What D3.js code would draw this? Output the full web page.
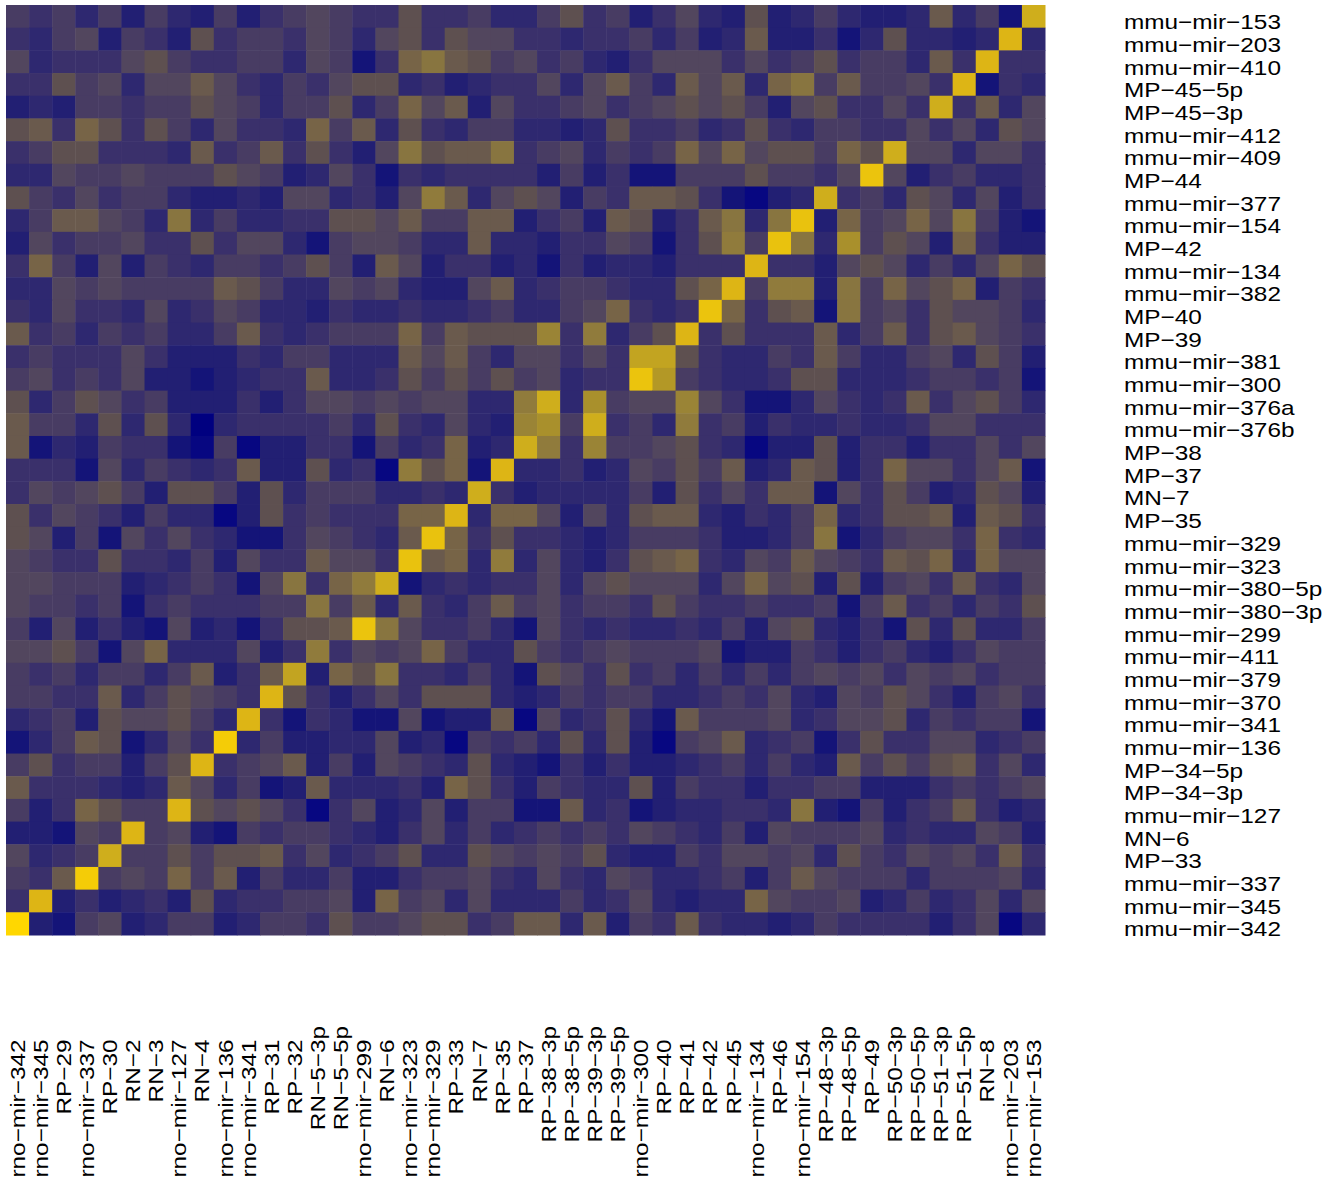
<!DOCTYPE html>
<html>
<head>
<meta charset="utf-8">
<script src="https://cdn.jsdelivr.net/npm/d3@7"></script>
<style>
  html, body { margin: 0; padding: 0; background: #ffffff; }
  svg { display: block; }
</style>
</head>
<body>
<svg id="chart" width="1333" height="1179"></svg>
<script>
// Mouse miRNAs (rows, top to bottom)
const rowLabels = [
  "mmu-mir-153","mmu-mir-203","mmu-mir-410","MP-45-5p","MP-45-3p","mmu-mir-412",
  "mmu-mir-409","MP-44","mmu-mir-377","mmu-mir-154","MP-42","mmu-mir-134",
  "mmu-mir-382","MP-40","MP-39","mmu-mir-381","mmu-mir-300","mmu-mir-376a",
  "mmu-mir-376b","MP-38","MP-37","MN-7","MP-35","mmu-mir-329","mmu-mir-323",
  "mmu-mir-380-5p","mmu-mir-380-3p","mmu-mir-299","mmu-mir-411","mmu-mir-379",
  "mmu-mir-370","mmu-mir-341","mmu-mir-136","MP-34-5p","MP-34-3p","mmu-mir-127",
  "MN-6","MP-33","mmu-mir-337","mmu-mir-345","mmu-mir-342"
];

// Rat miRNAs (columns, left to right)
const colLabels = [
  "rno-mir-342","rno-mir-345","RP-29","rno-mir-337","RP-30","RN-2","RN-3",
  "rno-mir-127","RN-4","rno-mir-136","rno-mir-341","RP-31","RP-32","RN-5-3p",
  "RN-5-5p","rno-mir-299","RN-6","rno-mir-323","rno-mir-329","RP-33","RN-7",
  "RP-35","RP-37","RP-38-3p","RP-38-5p","RP-39-3p","RP-39-5p","rno-mir-300",
  "RP-40","RP-41","RP-42","RP-45","rno-mir-134","RP-46","rno-mir-154",
  "RP-48-3p","RP-48-5p","RP-49","RP-50-3p","RP-50-5p","RP-51-3p","RP-51-5p",
  "RN-8","rno-mir-203","rno-mir-153"
];

// Similarity score (0-100), one row per mouse miRNA, one value per rat miRNA
const values = [
  [28,23,28,18,28,13,28,18,13,28,13,23,28,32,28, 23,23,37,23,23,28,18,18,28,37,23,28,13,23,32, 18,13,37,13,18,28,18,13,13,18,42,18,28,8,81],
  [23,18,28,32,13,28,23,13,37,23,28,28,23,32,28, 18,32,37,23,37,32,32,23,23,18,23,23,28,18,28, 13,18,42,13,13,23,8,18,37,18,18,13,18,87,18],
  [32,18,23,23,23,32,37,28,23,23,28,28,18,32,28, 8,23,47,53,42,37,28,32,23,28,18,13,23,32,32, 32,23,32,23,28,37,23,28,28,18,42,23,87,23,23],
  [23,23,37,28,32,18,32,32,42,32,23,18,28,23,32, 37,37,18,23,13,18,23,23,32,18,32,42,28,18,42, 32,42,18,47,53,28,42,28,28,32,23,87,8,23,18],
  [13,18,13,28,28,23,28,28,37,32,28,18,28,28,37, 18,28,47,32,42,13,32,23,23,28,32,23,28,32,37, 32,37,28,13,32,37,23,23,32,23,81,23,42,18,32],
  [37,42,23,47,37,23,37,28,18,32,23,23,18,47,28, 42,18,37,23,18,28,28,18,18,13,18,37,23,23,28, 18,23,37,23,18,28,28,23,23,32,23,32,18,37,32],
  [23,28,37,37,23,23,23,18,42,23,28,42,23,37,23, 13,32,53,37,42,42,53,23,28,32,18,28,23,28,47, 32,47,32,37,37,28,47,37,81,32,32,18,32,32,23],
  [18,18,32,28,28,32,28,28,28,37,32,28,13,18,32, 23,8,23,18,23,23,23,23,13,28,13,23,8,8,28, 28,28,37,28,28,23,32,93,32,13,23,28,18,18,23],
  [37,28,23,32,23,28,28,18,13,13,18,13,32,32,18, 23,13,32,56,42,18,32,37,32,13,28,23,42,42,37, 23,8,2,13,18,81,23,28,18,37,32,18,32,13,23],
  [18,28,42,42,32,28,18,53,18,28,18,18,23,23,37, 37,32,42,28,28,42,42,13,23,28,13,42,37,13,23, 42,53,18,53,92,13,47,28,32,47,32,53,28,13,8],
  [13,32,23,28,28,32,23,23,37,23,32,32,18,8,28, 32,32,28,18,18,42,18,18,13,23,23,32,28,8,23, 37,56,28,92,53,18,66,28,37,32,13,47,23,13,13],
  [23,47,28,13,32,13,28,23,18,28,28,23,28,37,28, 13,42,32,13,23,23,13,18,8,23,13,18,18,13,23, 23,23,87,23,23,13,32,37,32,18,28,18,32,47,37],
  [18,18,32,28,32,28,28,28,28,42,37,28,18,18,32, 28,32,18,13,13,32,42,18,23,28,28,23,18,18,37, 47,87,28,56,56,13,53,28,47,32,37,47,13,28,23],
  [23,18,32,23,23,18,32,18,23,32,28,18,18,13,23, 18,18,23,18,18,23,28,18,18,28,32,47,23,18,23, 93,47,23,37,42,8,53,28,32,23,37,32,32,28,18],
  [42,23,28,18,28,23,28,18,18,28,42,23,18,23,28, 28,28,47,28,42,37,37,37,60,23,56,18,28,37,87, 23,37,23,23,23,42,18,28,42,23,37,42,32,28,23],
  [23,28,23,23,23,32,23,13,13,13,23,18,28,28,18, 18,18,42,32,42,28,18,32,32,23,32,23,76,76,37, 23,18,18,28,23,42,28,18,18,28,32,18,37,28,13],
  [28,32,23,28,23,32,13,13,8,13,18,23,23,42,18, 18,23,37,28,37,28,37,28,32,18,23,23,93,70,28, 23,18,18,23,37,37,18,18,18,23,28,28,23,28,8],
  [37,18,28,37,32,23,28,13,13,13,23,13,23,32,32, 28,32,28,32,32,18,18,56,81,18,66,28,32,32,60, 32,23,8,8,18,32,23,18,23,42,23,32,37,28,18],
  [42,28,28,18,37,18,37,18,0,18,23,23,23,23,28, 18,37,23,18,32,18,13,60,66,28,81,23,28,18,56, 23,28,13,23,18,18,23,18,18,23,32,32,23,23,23],
  [42,8,18,13,28,23,23,8,2,28,2,13,13,23,23, 8,28,18,23,47,13,18,81,56,23,60,28,28,32,37, 23,18,2,13,13,37,13,23,23,13,23,23,32,23,32],
  [23,23,23,8,32,18,28,23,18,23,42,13,13,37,18, 23,2,56,37,47,8,87,18,18,23,13,18,32,28,37, 28,42,13,18,42,37,13,23,47,32,32,23,32,42,8],
  [23,32,28,32,37,28,13,37,37,28,13,37,18,28,28, 28,18,18,23,18,81,23,13,18,18,18,18,28,13,37, 23,32,23,42,42,8,32,23,37,28,13,18,37,32,13],
  [37,23,32,28,23,13,28,18,18,2,13,37,23,28,23, 23,23,47,47,87,18,47,47,32,13,32,18,37,42,42, 18,13,23,18,28,47,18,23,37,37,42,13,42,37,23],
  [37,32,13,28,8,32,23,32,23,18,8,8,23,32,28, 23,18,42,92,47,23,37,23,23,18,13,18,28,28,28, 23,13,13,18,28,53,8,18,28,32,32,23,47,23,18],
  [32,28,23,23,37,23,23,18,28,13,32,23,23,42,32, 32,23,92,42,47,18,56,18,32,18,13,23,37,42,47, 23,18,32,28,42,32,28,23,42,37,47,18,47,32,32],
  [32,32,28,28,28,13,18,23,28,23,8,32,53,23,47, 56,81,8,18,23,18,23,23,32,18,32,37,32,32,32, 18,32,47,32,37,13,37,13,28,32,23,42,23,18,32],
  [32,28,28,23,28,8,23,28,23,23,23,28,28,53,28, 42,18,42,23,18,28,42,28,32,23,28,28,23,37,28, 23,23,28,23,23,28,8,28,42,23,28,18,28,23,37],
  [28,13,32,13,23,13,8,32,13,18,8,23,37,37,42, 93,53,32,23,23,28,18,8,32,23,18,23,18,18,23, 18,28,13,32,37,18,13,23,8,37,18,37,18,18,28],
  [32,32,37,28,8,32,47,18,18,18,32,13,23,56,23, 32,28,32,47,28,18,18,37,28,23,28,32,28,28,28, 32,8,13,13,28,23,13,23,28,18,13,23,32,28,28],
  [28,23,28,18,28,28,18,28,42,13,23,42,76,13,47, 37,53,23,23,18,28,18,8,37,32,23,37,23,28,18, 28,18,28,18,28,32,28,32,23,32,28,32,23,28,28],
  [28,28,23,23,42,18,28,37,32,28,23,87,37,23,13, 23,32,23,37,37,37,18,13,18,28,23,28,28,18,18, 23,28,23,32,18,13,32,28,37,32,23,13,28,32,23],
  [18,23,28,13,37,32,32,37,28,18,87,23,8,23,18, 8,8,32,8,13,13,42,2,32,18,23,37,18,8,42, 28,28,28,32,18,23,32,32,37,18,28,23,28,28,8],
  [8,18,28,42,37,8,18,32,23,96,18,28,13,13,18, 18,32,13,18,2,28,23,28,18,37,18,37,13,2,28, 32,42,18,23,28,8,23,37,23,23,32,32,18,23,28],
  [28,37,23,28,28,13,28,37,87,23,28,32,42,13,28, 13,32,28,23,18,37,18,13,8,23,13,23,13,13,18, 23,28,18,28,18,13,42,28,37,28,37,42,23,32,18],
  [42,23,23,23,18,13,18,42,32,18,28,8,13,42,18, 18,18,23,13,47,37,23,13,28,23,18,18,37,13,28, 23,23,13,23,23,28,28,13,13,13,23,28,23,28,32],
  [28,13,23,47,37,28,28,87,37,32,37,32,23,2,23, 32,13,18,32,13,28,28,8,8,42,18,23,8,13,18, 18,23,23,18,53,13,8,28,13,23,28,42,23,13,18],
  [13,13,8,32,28,87,28,32,13,8,28,23,28,28,23, 18,13,23,32,18,28,18,23,28,23,28,23,32,28,23, 18,28,13,32,28,28,28,32,18,23,18,18,32,28,13],
  [32,18,23,28,81,28,28,37,28,37,37,42,23,32,18, 23,28,37,18,18,37,32,28,32,28,37,18,13,13,28, 23,32,32,28,32,18,37,28,23,32,28,32,23,42,23],
  [28,23,42,96,28,32,28,47,28,42,13,28,18,18,28, 13,13,23,28,28,32,23,18,32,23,18,32,28,18,18, 23,28,13,28,42,32,28,28,28,18,28,28,28,32,18],
  [23,87,13,23,13,18,23,13,37,18,23,23,28,28,32, 13,47,28,32,18,32,18,18,18,28,18,23,32,18,13, 18,18,47,32,28,28,32,13,18,28,18,23,32,18,32],
  [100,13,8,28,32,13,18,28,28,13,18,28,28,23,37, 28,28,32,37,37,23,28,42,42,18,42,13,28,23,42, 23,18,18,13,18,28,23,23,23,23,13,23,32,2,18]
];

// Navy-to-gold palette anchored at score levels
const paletteStops  = [0, 2, 8, 13, 18, 23, 28, 32, 37, 42, 47, 53, 60, 70, 81, 87, 93, 100];
const paletteColors = ["#000080","#070781","#141478","#221F73","#2E2870","#3A306B","#483C63",
                       "#52465E","#5E5050","#6A5A4D","#776447","#887540","#9A8436","#B39826",
                       "#CFAE1C","#DDB515","#EBC40D","#FFD700"];

const svg = d3.select("#chart");
const plot = { left: 6, top: 5, right: 1045, bottom: 935 };
const fontFamily = "'Liberation Sans', Arial, Helvetica, sans-serif";
const fontSize = 20.3;
const stretch = 1.2;          // labels are set wide along the reading direction
const dash = s => s.replace(/-/g, "\u2212");

const x = d3.scaleBand().domain(colLabels).range([plot.left, plot.right]);
const y = d3.scaleBand().domain(rowLabels).range([plot.top, plot.bottom]);
const color = d3.scaleLinear().domain(paletteStops).range(paletteColors)
  .interpolate(d3.interpolateRgb).clamp(true);

const cells = [];
rowLabels.forEach((r, i) => colLabels.forEach((c, j) => cells.push({ r, c, v: values[i][j] })));

svg.append("g")
  .selectAll("rect")
  .data(cells)
  .join("rect")
  .attr("x", d => x(d.c))
  .attr("y", d => y(d.r))
  .attr("width", x.bandwidth() + 0.5)
  .attr("height", y.bandwidth() + 0.5)
  .attr("fill", d => color(d.v));

// Row labels on the right
svg.append("g")
  .selectAll("text")
  .data(rowLabels)
  .join("text")
  .attr("transform", d => `translate(1124,${y(d) + y.bandwidth() / 2 + 12.8}) scale(${stretch},1)`)
  .attr("font-family", fontFamily)
  .attr("font-size", fontSize)
  .attr("fill", "#000")
  .text(d => dash(d));

// Width of a trailing "p", which hangs above the common label end
const probe = svg.append("text").attr("font-family", fontFamily).attr("font-size", fontSize).text("p");
const pWidth = probe.node().getComputedTextLength() * stretch;
probe.remove();

// Column labels, rotated, below the grid
const colEnd = 1039.5;
svg.append("g")
  .selectAll("text")
  .data(colLabels)
  .join("text")
  .attr("transform", d => {
    const cx = x(d) + x.bandwidth() / 2 + 7.2;
    const top = colEnd - (d.endsWith("p") ? pWidth : 0);
    return `translate(${cx},${top}) rotate(-90) scale(${stretch},1)`;
  })
  .attr("text-anchor", "end")
  .attr("font-family", fontFamily)
  .attr("font-size", fontSize)
  .attr("fill", "#000")
  .text(d => dash(d));
</script>
</body>
</html>
